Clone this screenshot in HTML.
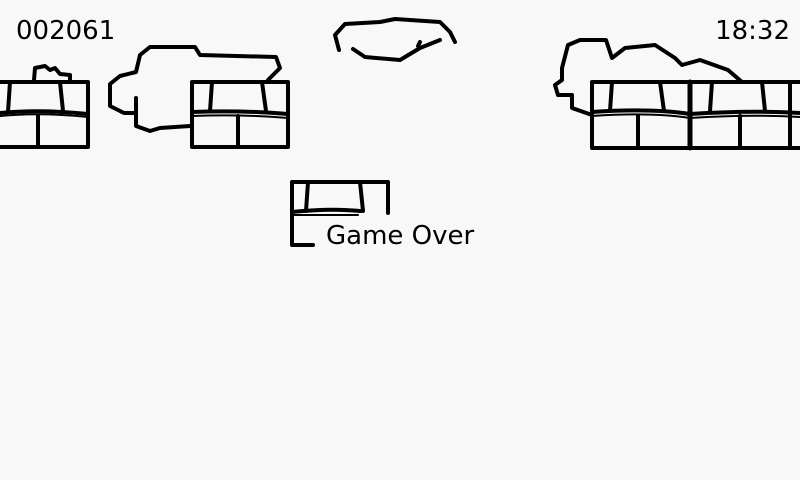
<!DOCTYPE html>
<html><head><style>
html,body{margin:0;padding:0;background:#f8f8f8;}
svg{display:block}
text{font-family:"DejaVu Sans","Liberation Sans",sans-serif;fill:#000}
</style></head><body>
<svg width="800" height="480" viewBox="0 0 800 480" xmlns="http://www.w3.org/2000/svg">
<rect width="800" height="480" fill="#f8f8f8"/>
<g fill="none" stroke="#000" stroke-width="4" stroke-linejoin="round" stroke-linecap="round">
<!-- left bricks -->
<path d="M0 82 L88 82 L88 147 L0 147"/>
<path d="M0 113 Q40 109 88 114"/>
<path d="M0 116 Q40 112 88 117" stroke-width="2"/>
<path d="M10 82 L8 112 M60 82 L63 111 M38 116 L38 147"/>
<path d="M34 80 L35 68 L45 66 L50 70 L55 68 L60 74 L70 75 L70 80"/>
<!-- cloud 1 -->
<path d="M136 98 L136 126 L150 131 L160 128 L190 126 M268 80 L280 68 L276 57 L200 55 L195 47 L150 47 L140 55 L136 72 L120 76 L110 84 L110 106 L124 113 L136 113"/>
<!-- bricks 2 -->
<path d="M192 82 L288 82 L288 147 L192 147 Z"/>
<path d="M192 112 Q240 110 288 114"/>
<path d="M192 116 Q240 114 288 118" stroke-width="2"/>
<path d="M212 82 L210 111 M262 82 L266 111 M238 116 L238 147"/>
<!-- cloud 3 -->
<path d="M339 50 L335 35 L345 24 L380 22 L395 19 L440 22 L450 32 L455 42 M353 49 L365 57 L400 60 L420 48 L440 40 M420 42 L418 46"/>
<!-- right cloud -->
<path d="M592 115 L572 108 L572 95 L558 95 L555 85 L562 80 L562 68 L568 45 L580 40 L606 40 L612 58 L625 48 L655 45 L675 58 L682 65 L700 60 L728 70 L742 82"/>
<!-- right bricks -->
<path d="M592 82 L800 82 M592 82 L592 148 L800 148"/>
<path d="M592 112 Q650 108 690 114 Q750 110 800 113"/>
<path d="M592 116 Q650 112 690 118 Q750 114 800 117" stroke-width="2"/>
<path d="M690 82 L690 148" stroke-width="5"/>
<path d="M612 82 L610 111 M660 82 L664 111 M712 82 L710 111 M762 82 L765 111 M790 82 L790 148"/>
<path d="M638 116 L638 148 M740 116 L740 148"/>
<!-- small brick -->
<path d="M292 182 L388 182 L388 213 M292 182 L292 245 L313 245"/>
<path d="M292 212 Q330 208 360 211" />
<path d="M292 215 L358 215" stroke-width="2"/>
<path d="M308 182 L306 211 M360 182 L363 211"/>
</g>
<text x="16" y="39" font-size="26">002061</text>
<text x="790" y="39" font-size="26" text-anchor="end">18:32</text>
<text x="326" y="244" font-size="26">Game Over</text>
</svg>
</body></html>
